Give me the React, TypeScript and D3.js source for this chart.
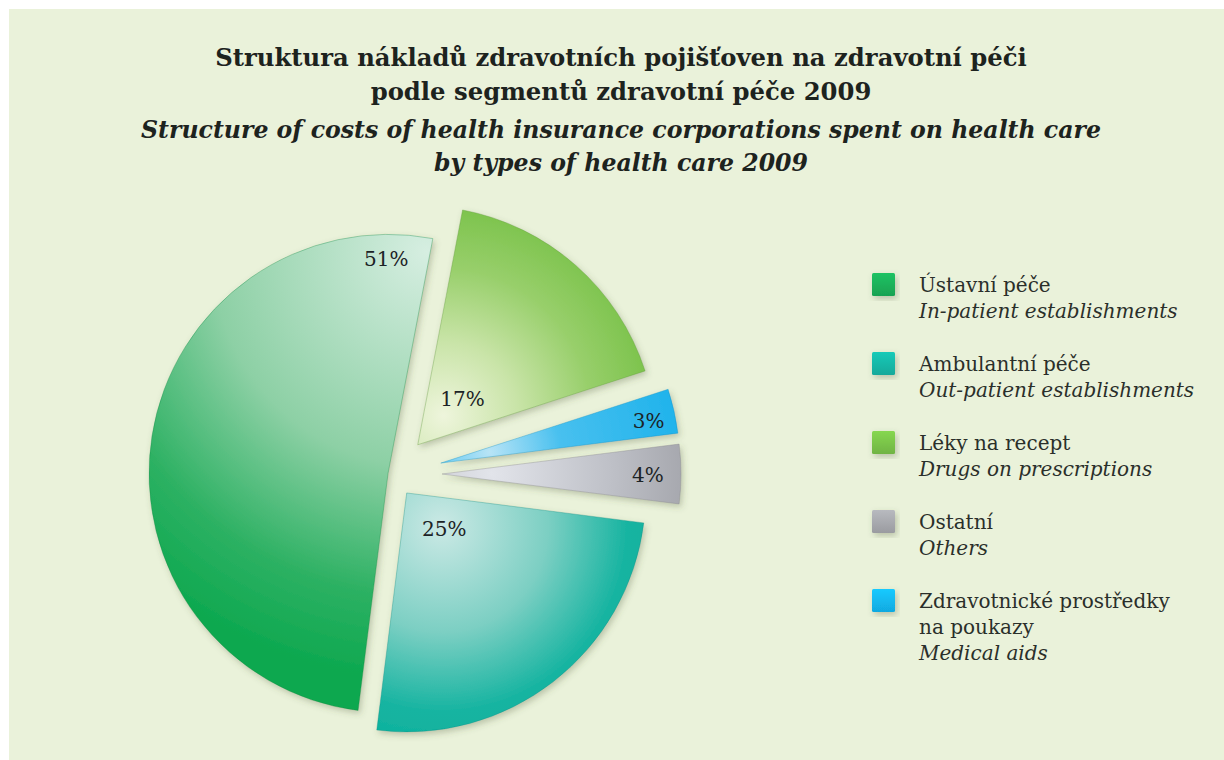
import React from "react";
import * as d3 from "d3";

// legend order
const categoriesCz = [
  ["Ústavní péče"],
  ["Ambulantní péče"],
  ["Léky na recept"],
  ["Ostatní"],
  ["Zdravotnické prostředky", "na poukazy"],
];
const categoriesEn = [
  "In-patient establishments",
  "Out-patient establishments",
  "Drugs on prescriptions",
  "Others",
  "Medical aids",
];
const shares = [51, 25, 17, 4, 3];

// clockwise drawing order of the pie (indexes into the arrays above)
const pieOrder = [2, 4, 3, 1, 0];

const titleLines = [
  "Struktura nákladů zdravotních pojišťoven na zdravotní péči",
  "podle segmentů zdravotní péče 2009",
];
const subtitleLines = [
  "Structure of costs of health insurance corporations spent on health care",
  "by types of health care 2009",
];

// styling per category
const explode = [4, 24, 39, 50, 50];
const labelPos: [number, number][] = [
  [-0.5, 214],
  [133.8, 52],
  [44.4, 64],
  [90.3, 206],
  [78.6, 212],
];
const swatch = ["#1aab57", "#15b2a2", "#76be47", "#a2a4a9", "#12b2ec"];
const gradStops: [number, string][][] = [
  [[0, "#d6eee1"], [0.5, "#8dd0a5"], [0.8, "#2db163"], [1, "#0da84f"]],
  [[0, "#cbe9e5"], [0.4, "#7ccfc3"], [0.7, "#17b4a1"], [1, "#00ae98"]],
  [[0, "#eef5dc"], [0.3, "#c9e4a8"], [0.6, "#98cf6b"], [1, "#6cbc3a"]],
  [[0, "#e2e4ea"], [0.5, "#bec0c7"], [1, "#97989e"]],
  [[0, "#b8e4f6"], [0.3, "#48c0ef"], [1, "#10aeea"]],
];
// highlight centre (angle deg, radius) and gradient radius
const gradGeom: [number, number, number][] = [
  [11, 225, 430],
  [125, 25, 265],
  [0, 0, 245],
  [0, 0, 239],
  [0, 0, 239],
];

const W = 1224;
const H = 760;
const cx = 392;
const cy = 474;
const R = 239;

const rad = (deg: number) => (deg * Math.PI) / 180;
const polar = (a: number, r: number): [number, number] => [
  Math.sin(a) * r,
  -Math.cos(a) * r,
];

export default function App() {
  const pie = d3
    .pie<number>()
    .sort(null)
    .value((i) => shares[i])
    .startAngle(2 * Math.PI * 0.03)
    .endAngle(2 * Math.PI * 1.03);
  const arcs = pie(pieOrder);
  const arc = d3.arc<d3.PieArcDatum<number>>().innerRadius(0).outerRadius(R);

  const serif = "'DejaVu Serif', serif";

  return (
    <svg
      width={W}
      height={H}
      style={{ position: "absolute", left: 0, top: 0, display: "block" }}
      fontFamily={serif}
    >
      <defs>
        <filter id="shadow" x="-20%" y="-20%" width="140%" height="140%">
          <feDropShadow dx="2" dy="3" stdDeviation="3" floodColor="#4d5a3a" floodOpacity="0.3" />
        </filter>
        {arcs.map((a) => {
          const i = a.data;
          const mid = (a.startAngle + a.endAngle) / 2;
          const [ox, oy] = polar(mid, explode[i]);
          const [ga, gr, rr] = gradGeom[i];
          const [hx, hy] = polar(rad(ga), gr);
          return (
            <radialGradient
              key={i}
              id={`g${i}`}
              gradientUnits="userSpaceOnUse"
              cx={ox + hx}
              cy={oy + hy}
              r={rr}
            >
              {gradStops[i].map(([o, c]) => (
                <stop key={o} offset={o} stopColor={c} />
              ))}
            </radialGradient>
          );
        })}
        {swatch.map((c, i) => (
          <linearGradient key={i} id={`s${i}`} x1="0" y1="0" x2="0" y2="1">
            <stop offset="0" stopColor={d3.color(c)!.brighter(0.35).formatHex()} />
            <stop offset="1" stopColor={d3.color(c)!.darker(0.15).formatHex()} />
          </linearGradient>
        ))}
      </defs>

      <rect x={9} y={9} width={W - 9} height={H - 9} fill="#eaf2da" />

      <g textAnchor="middle" fill="#1d231e" fontWeight="bold">
        {titleLines.map((t, k) => (
          <text key={t} x={621} y={66 + k * 34} fontSize={24.3}>
            {t}
          </text>
        ))}
        {subtitleLines.map((t, k) => (
          <text key={t} x={621} y={138 + k * 33} fontSize={23.6} fontStyle="italic">
            {t}
          </text>
        ))}
      </g>

      <g transform={`translate(${cx},${cy})`}>
        {arcs.map((a) => {
          const i = a.data;
          const mid = (a.startAngle + a.endAngle) / 2;
          const [ox, oy] = polar(mid, explode[i]);
          return (
            <path
              key={i}
              d={arc(a) || ""}
              transform={`translate(${ox},${oy})`}
              fill={`url(#g${i})`}
              stroke={d3.color(swatch[i])!.darker(0.6).formatHex()}
              strokeOpacity={0.35}
              strokeWidth={1}
              filter="url(#shadow)"
            />
          );
        })}
        {arcs.map((a) => {
          const i = a.data;
          const mid = (a.startAngle + a.endAngle) / 2;
          const [ox, oy] = polar(mid, explode[i]);
          const [la, lr] = labelPos[i];
          const [lx, ly] = polar(rad(la), lr);
          return (
            <text
              key={i}
              x={ox + lx}
              y={oy + ly}
              textAnchor="middle"
              dominantBaseline="central"
              fontSize={20}
              fill="#1c2326"
            >
              {shares[i]}%
            </text>
          );
        })}
      </g>

      <g fill="#2a2f2a" fontSize={20}>
        {categoriesCz.map((lines, i) => {
          const y0 = 273 + i * 79;
          return (
            <g key={i}>
              <rect
                x={872}
                y={y0}
                width={23}
                height={23}
                rx={1.5}
                fill={`url(#s${i})`}
                filter="url(#shadow)"
              />
              {lines.map((t, k) => (
                <text key={t} x={919} y={y0 + 19 + k * 26}>
                  {t}
                </text>
              ))}
              <text x={919} y={y0 + 19 + lines.length * 26} fontStyle="italic">
                {categoriesEn[i]}
              </text>
            </g>
          );
        })}
      </g>
    </svg>
  );
}
